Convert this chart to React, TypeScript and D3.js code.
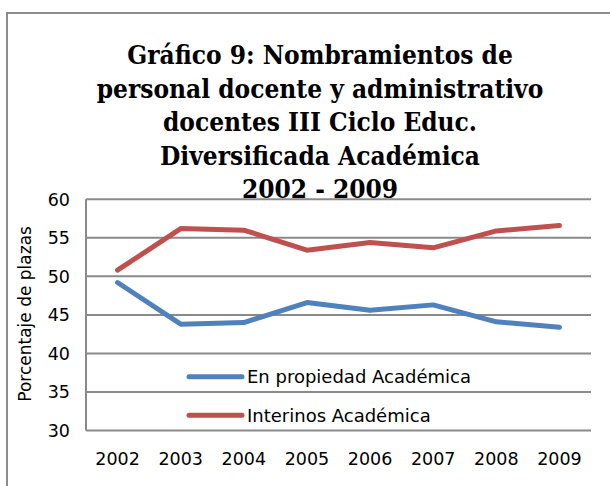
import React from "react";
import * as d3 from "d3";

const years = ["2002", "2003", "2004", "2005", "2006", "2007", "2008", "2009"];
const propiedad = [49.2, 43.8, 44.0, 46.6, 45.6, 46.3, 44.1, 43.4];
const interinos = [50.8, 56.2, 56.0, 53.4, 54.4, 53.7, 55.9, 56.6];
const yTicks = [30, 35, 40, 45, 50, 55, 60];
const titleLines = [
  "Gráfico 9: Nombramientos de",
  "personal docente y administrativo",
  "docentes III Ciclo Educ.",
  "Diversificada Académica",
  "2002 - 2009",
];
const seriesNames = ["En propiedad Académica", "Interinos Académica"];
const seriesColors = ["#4F81BD", "#C0504D"];

export default function App() {
  const W = 610, H = 486;
  const left = 86, right = 591, top = 199.3, bottom = 430.5;
  const x = d3.scaleBand<string>().domain(years).range([left, right]);
  const y = d3.scaleLinear().domain([30, 60]).range([bottom, top]);
  const line = d3
    .line<number>()
    .x((_, i) => (x(years[i]) as number) + x.bandwidth() / 2)
    .y((d) => y(d));
  const series = [propiedad, interinos];
  const font = "'DejaVu Sans', sans-serif";

  return (
    <svg
      width={W}
      height={H}
      style={{ position: "absolute", left: 0, top: 0, background: "#fff" }}
    >
      <rect x={0} y={0} width={W} height={H} fill="#fff" />
      <rect x={7} y={13} width={660} height={520} fill="none" stroke="#8c8c8c" strokeWidth={2} />
      {titleLines.map((t, i) => (
        <text
          key={i}
          x={320}
          y={64 + i * 33.6}
          textAnchor="middle"
          fontFamily="'DejaVu Serif', serif"
          style={{ fontStretch: "condensed" }}
          fontWeight="bold"
          fontSize={26}
          fill="#000"
        >
          {t}
        </text>
      ))}
      {yTicks.map((t) => (
        <g key={t}>
          <line x1={left} x2={right} y1={y(t)} y2={y(t)} stroke="#8a8a8a" strokeWidth={2} />
          <text
            x={70}
            y={y(t)}
            dy="0.36em"
            textAnchor="end"
            fontFamily={font}
            fontSize={17.5}
            fill="#000"
          >
            {t}
          </text>
        </g>
      ))}
      <line x1={left} x2={left} y1={top} y2={bottom} stroke="#8a8a8a" strokeWidth={2} />
      {years.map((yr) => (
        <text
          key={yr}
          x={(x(yr) as number) + x.bandwidth() / 2}
          y={465}
          textAnchor="middle"
          fontFamily={font}
          fontSize={17.5}
          fill="#000"
        >
          {yr}
        </text>
      ))}
      <text
        transform={`translate(31,${(top + bottom) / 2 - 1}) rotate(-90)`}
        textAnchor="middle"
        fontFamily={font}
        fontSize={17}
        fill="#000"
      >
        Porcentaje de plazas
      </text>
      {series.map((s, i) => (
        <path
          key={i}
          d={line(s) || ""}
          fill="none"
          stroke={seriesColors[i]}
          strokeWidth={5}
          strokeLinejoin="round"
          strokeLinecap="round"
        />
      ))}
      {seriesNames.map((n, i) => (
        <g key={n}>
          <line
            x1={189}
            x2={242}
            y1={376.7 + i * 38.5}
            y2={376.7 + i * 38.5}
            stroke={seriesColors[i]}
            strokeWidth={5}
            strokeLinecap="round"
          />
          <text
            x={247}
            y={376.7 + i * 38.5}
            dy="0.36em"
            fontFamily={font}
            fontSize={18}
            fill="#000"
          >
            {n}
          </text>
        </g>
      ))}
    </svg>
  );
}
